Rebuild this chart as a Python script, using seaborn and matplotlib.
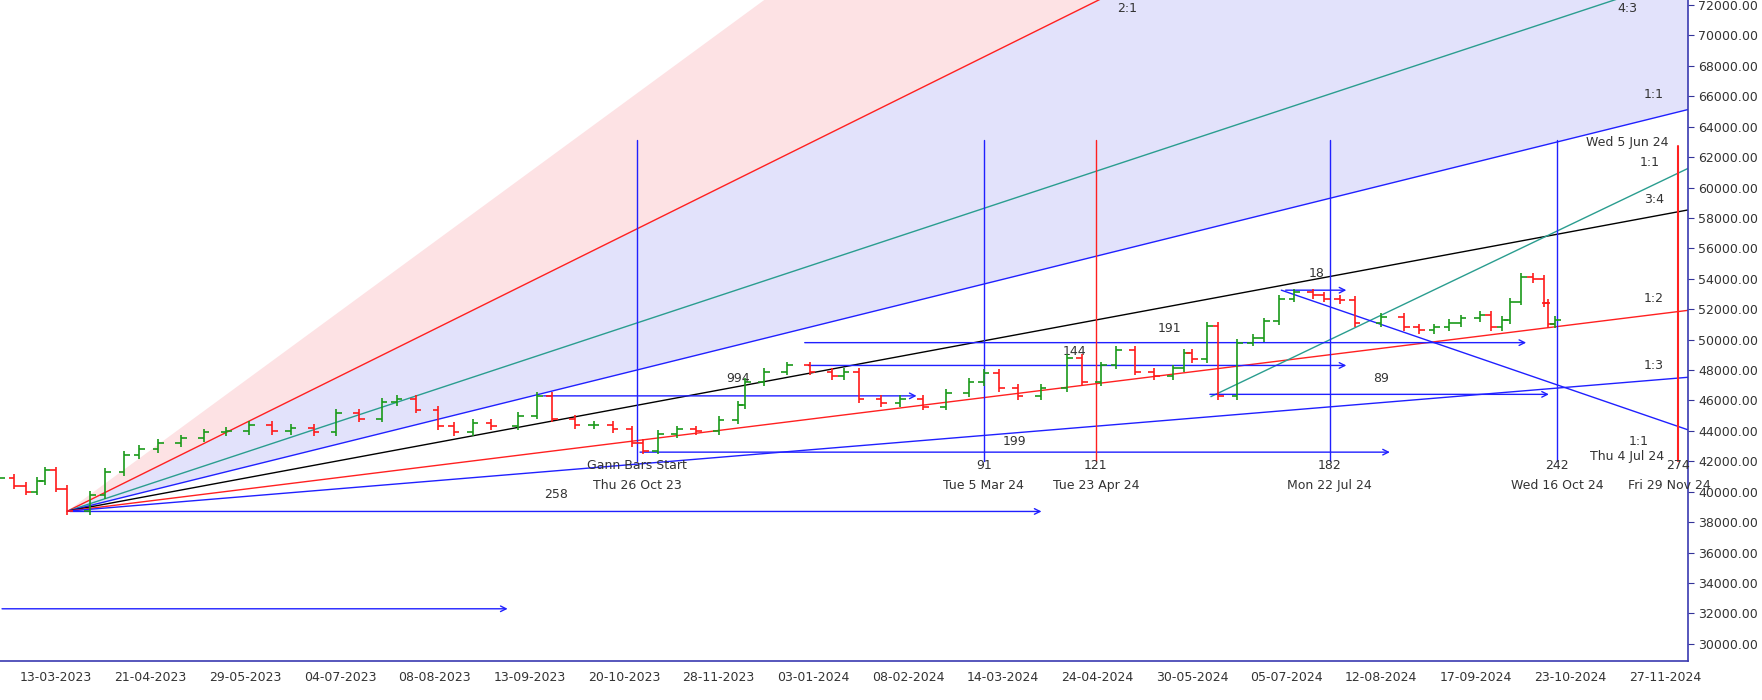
import numpy as np
import matplotlib
matplotlib.use("Agg")
import matplotlib.pyplot as plt
import seaborn as sns

# x axis is the bar index (trading days), 25 bars per date tick
tick_labels = ["13-03-2023", "21-04-2023", "29-05-2023", "04-07-2023", "08-08-2023",
               "13-09-2023", "20-10-2023", "28-11-2023", "03-01-2024", "08-02-2024",
               "14-03-2024", "24-04-2024", "30-05-2024", "05-07-2024", "12-08-2024",
               "17-09-2024", "23-10-2024", "27-11-2024"]

# price path (bar index, close)
bar_idx = [-15, -11, -8, -5, -3, 0, 3, 9, 13, 18, 22, 27, 33, 39, 45, 51, 57, 62, 68, 74,
           80, 86, 90, 95, 101, 105, 110, 115, 122, 127, 131, 137, 142, 147, 152, 155, 159,
           164, 169, 175, 180, 182, 187, 193, 199, 205, 208, 212, 218, 223, 229, 235, 241,
           245, 249, 254, 260, 267, 271, 276, 280, 285, 290, 295, 298, 300, 304, 307, 312,
           316, 319, 323, 327, 332, 335, 339, 343, 350, 356, 360, 364, 368, 371, 376, 379,
           382, 384, 387, 390, 393, 394, 396]
close = [40900, 40400, 40000, 40700, 41400, 40200, 38700, 39800, 41300, 42400, 42800, 43200,
         43500, 43900, 44000, 44400, 44000, 44200, 43900, 45200, 44800, 45900, 46100, 45400,
         44300, 43900, 44500, 44300, 45000, 46300, 44800, 44400, 44400, 44100, 43200, 42700,
         43800, 44100, 44000, 44700, 45700, 47200, 47900, 48300, 47900, 47600, 47900, 46100,
         45800, 46100, 45600, 46500, 47200, 47800, 46800, 46300, 46800, 48800, 47200, 48300,
         49300, 47900, 47600, 48100, 49100, 48700, 50900, 46300, 49800, 50100, 51200, 52700,
         53100, 52900, 52700, 52600, 51100, 51500, 50800, 50600, 50800, 51100, 51400, 51600,
         50800, 51300, 52500, 54100, 54000, 52400, 51000, 51300]

# main Gann fan: origin, unit slope (price per bar) and ratios
fan_origin = (3, 38720)
fan_unit = 61.7
fan_ratios = [2.0, 4 / 3, 1.0, 0.75, 0.5, 1 / 3]
fan_colors = ["#ff2020", "#2a9d8f", "#2020ff", "#000000", "#ff2020", "#2020ff"]
fan_labels = ["2:1", "4:3", "1:1", "3:4", "1:2", "1:3"]

# vertical time marks: bar index, bottom label, date, colour
vline_idx = [153.5, 245, 274.6, 336.4, 396.4]
vline_num = ["Gann Bars Start", "91", "121", "182", "242"]
vline_date = ["Thu 26 Oct 23", "Tue 5 Mar 24", "Tue 23 Apr 24", "Mon 22 Jul 24", "Wed 16 Oct 24"]
vline_col = ["#2020ff", "#2020ff", "#ff2020", "#2020ff", "#2020ff"]

# horizontal arrows: start idx, end idx, price
arrow_x0 = [-15, 3, 128, 197, 198, 304, 324, 153.5]
arrow_x1 = [120, 261, 228, 389, 341.5, 395, 341.5, 353]
arrow_y = [32300, 38700, 46300, 49800, 48300, 46400, 53250, 42600]
count_text = ["258", "199", "191", "144", "994", "89", "18"]
count_x = [132, 253, 294, 269, 180, 350, 333]
count_y = [39400, 42900, 50300, 48800, 47000, 47000, 53900]

sns.set_style("white")
plt.rcParams["font.family"] = ["DejaVu Sans"]
fig = plt.figure(figsize=(17.62, 7.0), dpi=100)
ax = fig.add_axes([0.0, 0.056, 0.958, 0.944])
xmin, xmax = -14.8, 431
ymin, ymax = 28880, 72330
ax.set_xlim(xmin, xmax)
ax.set_ylim(ymin, ymax)

# shaded fan zones
xs = np.linspace(fan_origin[0], xmax, 200)
line = lambda r: fan_origin[1] + fan_unit * r * (xs - fan_origin[0])
ax.fill_between(xs, line(2.0), line(2.96), color="#fde2e4", lw=0, zorder=0)
ax.fill_between(xs, line(1.0), line(2.0), color="#e2e2fb", lw=0, zorder=0)
for r, c in zip(fan_ratios, fan_colors):
    ax.plot(xs, line(r), color=c, lw=1.0, zorder=2)

# secondary lines
ax.plot([305, xmax], [46250, 46250 + 119.1 * (xmax - 305)], color="#2a9d8f", lw=1.0, zorder=2)
ax.plot([323.6, xmax], [53250, 53250 - 85.5 * (xmax - 323.6)], color="#2020ff", lw=1.0, zorder=2)

# fan labels at right
lab_y = [71350, 71350, 65700, 58800, 52300, 47900]
lab_x = [283, 415, 422, 422, 422, 422]
for t, x, y in zip(fan_labels, lab_x, lab_y):
    ax.text(x, y, t, fontsize=9, color="#333333", ha="center", va="bottom")
ax.text(415, 62500, "Wed 5 Jun 24", fontsize=9, color="#333333", ha="center", va="bottom")
ax.text(421, 61250, "1:1", fontsize=9, color="#333333", ha="center", va="bottom")
ax.text(418, 42900, "1:1", fontsize=9, color="#333333", ha="center", va="bottom")
ax.text(415, 41900, "Thu 4 Jul 24", fontsize=9, color="#333333", ha="center", va="bottom")

# horizontal arrows
for x0, x1, y in zip(arrow_x0, arrow_x1, arrow_y):
    ax.annotate("", xy=(x1, y), xytext=(x0, y),
                arrowprops=dict(arrowstyle="->", color="#2020ff", lw=1.0), zorder=3)
for t, x, y in zip(count_text, count_x, count_y):
    ax.text(x, y, t, fontsize=9, color="#333333", ha="center", va="bottom")

# vertical time marks
for x, n, d, c in zip(vline_idx, vline_num, vline_date, vline_col):
    ax.plot([x, x], [42000, 63100], color=c, lw=1.0, zorder=3)
    ax.text(x, 41300, n, fontsize=9, color="#333333", ha="center", va="bottom")
    ax.text(x, 40000, d, fontsize=9, color="#333333", ha="center", va="bottom")
ax.plot([428.4, 428.4], [42000, 62700], color="#ff2020", lw=1.5, zorder=3)
ax.text(428.4, 41300, "274", fontsize=9, color="#333333", ha="center", va="bottom")
ax.text(426, 40000, "Fri 29 Nov 24", fontsize=9, color="#333333", ha="center", va="bottom")

# price bars: step from previous close to close
prev = close[0]
for x, c in zip(bar_idx, close):
    col = "#1a9a1a" if c >= prev else "#ff1a1a"
    lo, hi = min(prev, c), max(prev, c)
    ax.vlines(x, lo - 250, hi + 250, color=col, lw=1.2, zorder=4)
    ax.hlines(c, x, x + 1.5, color=col, lw=1.2, zorder=4)
    ax.hlines(prev, x - 1.5, x, color=col, lw=1.2, zorder=4)
    prev = c

# axes styling
ax.set_xticks(np.arange(0, 426, 25))
ax.set_xticklabels(tick_labels, fontsize=9, color="#333333")
ax.set_xticks(np.arange(-12.5, 431, 12.5), minor=True)
ax.set_yticks(np.arange(30000, 72001, 2000))
ax.yaxis.tick_right()
ax.set_yticklabels([f"{v:.2f}" for v in np.arange(30000, 72001, 2000)], fontsize=9, color="#333333")
ax.tick_params(axis="both", which="both", direction="out", length=4, color="#333399")
ax.tick_params(axis="x", which="minor", length=3)
for s in ["top", "left"]:
    ax.spines[s].set_visible(False)
for s in ["right", "bottom"]:
    ax.spines[s].set_color("#3a3ab0")
    ax.spines[s].set_linewidth(1.2)

fig.savefig("out.png", dpi=100)
